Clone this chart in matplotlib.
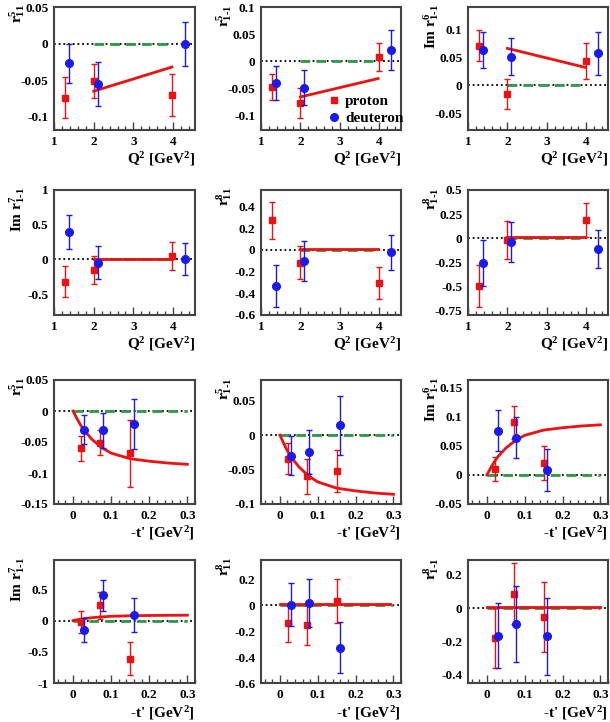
import matplotlib
matplotlib.use("Agg")
import matplotlib.pyplot as plt
from matplotlib.ticker import MultipleLocator, AutoMinorLocator

# ---- data ----
# x positions of the points
q2_prot_x = [1.28, 2.00, 3.98]
q2_deut_x = [1.37, 2.10, 4.30]
t_prot_x = [0.022, 0.072, 0.150]
t_deut_x = [0.030, 0.078, 0.160]

# zero-prediction (green) and model (red) x ranges
green_q2_x = [2.0, 4.0]
green_t_x = [0.0, 0.3]
model_q2_x = [2.0, 3.97]
model_t_x = [0.0, 0.01, 0.02, 0.03, 0.05, 0.075, 0.1, 0.15, 0.2, 0.25, 0.3]
model_t_flat_x = [0.0, 0.29]

# r^5_11 vs Q2
r5_11_q2_prot = [-0.074, -0.051, -0.070]
r5_11_q2_prot_err = [0.028, 0.023, 0.029]
r5_11_q2_deut = [-0.027, -0.055, 0.000]
r5_11_q2_deut_err = [0.027, 0.030, 0.030]
r5_11_q2_model = [-0.065, -0.032]

# r^5_1-1 vs Q2
r5_1m1_q2_prot = [-0.048, -0.077, 0.008]
r5_1m1_q2_prot_err = [0.024, 0.027, 0.026]
r5_1m1_q2_deut = [-0.040, -0.049, 0.020]
r5_1m1_q2_deut_err = [0.031, 0.032, 0.037]
r5_1m1_q2_model = [-0.066, -0.032]

# Im r^6_1-1 vs Q2
r6_q2_prot = [0.071, -0.016, 0.043]
r6_q2_prot_err = [0.027, 0.027, 0.032]
r6_q2_deut = [0.063, 0.051, 0.057]
r6_q2_deut_err = [0.032, 0.033, 0.038]
r6_q2_model = [0.066, 0.032]

# Im r^7_1-1 vs Q2
r7_q2_prot = [-0.32, -0.152, 0.048]
r7_q2_prot_err = [0.22, 0.195, 0.20]
r7_q2_deut = [0.395, -0.048, 0.0]
r7_q2_deut_err = [0.25, 0.235, 0.23]
r7_q2_model = [0.01, 0.01]

# r^8_11 vs Q2
r8_11_q2_prot = [0.273, -0.118, -0.31]
r8_11_q2_prot_err = [0.17, 0.155, 0.147]
r8_11_q2_deut = [-0.332, -0.102, -0.025]
r8_11_q2_deut_err = [0.19, 0.182, 0.163]
r8_11_q2_model = [0.01, 0.01]

# r^8_1-1 vs Q2
r8_1m1_q2_prot = [-0.50, -0.02, 0.189]
r8_1m1_q2_prot_err = [0.218, 0.193, 0.18]
r8_1m1_q2_deut = [-0.257, -0.043, -0.118]
r8_1m1_q2_deut_err = [0.238, 0.208, 0.198]
r8_1m1_q2_model = [0.01, 0.01]

# r^5_11 vs -t'
r5_11_t_prot = [-0.060, -0.051, -0.068]
r5_11_t_prot_err = [0.020, 0.020, 0.054]
r5_11_t_deut = [-0.030, -0.031, -0.021]
r5_11_t_deut_err = [0.023, 0.028, 0.040]
model_t_neg = [0.0, -0.012, -0.023, -0.032, -0.046, -0.059, -0.068, -0.077, -0.081, -0.084, -0.086]

# r^5_1-1 vs -t'
r5_1m1_t_prot = [-0.034, -0.060, -0.052]
r5_1m1_t_prot_err = [0.023, 0.025, 0.030]
r5_1m1_t_deut = [-0.030, -0.025, 0.014]
r5_1m1_t_deut_err = [0.028, 0.032, 0.043]

# Im r^6_1-1 vs -t'
r6_t_prot = [0.010, 0.090, 0.020]
r6_t_prot_err = [0.021, 0.028, 0.029]
r6_t_deut = [0.076, 0.064, 0.008]
r6_t_deut_err = [0.035, 0.035, 0.036]
model_t_pos = [0.0, 0.012, 0.023, 0.032, 0.046, 0.059, 0.068, 0.077, 0.081, 0.084, 0.086]

# Im r^7_1-1 vs -t'
r7_t_prot = [-0.027, 0.242, -0.608]
r7_t_prot_err = [0.18, 0.21, 0.26]
r7_t_deut = [-0.15, 0.403, 0.086]
r7_t_deut_err = [0.197, 0.242, 0.27]

# r^8_11 vs -t'
r8_11_t_prot = [-0.136, -0.154, 0.031]
r8_11_t_prot_err = [0.145, 0.155, 0.17]
r8_11_t_deut = [0.005, 0.018, -0.326]
r8_11_t_deut_err = [0.165, 0.185, 0.20]
model_t_flat = [0.01, 0.01]

# r^8_1-1 vs -t'
r8_1m1_t_prot = [-0.18, 0.087, -0.055]
r8_1m1_t_prot_err = [0.18, 0.182, 0.21]
r8_1m1_t_deut = [-0.166, -0.095, -0.17]
r8_1m1_t_deut_err = [0.195, 0.227, 0.23]

# y tick values per panel
yt_p1 = [-0.1, -0.05, 0, 0.05]
yt_p2 = [-0.1, -0.05, 0, 0.05, 0.1]
yt_p3 = [-0.05, 0, 0.05, 0.1]
yt_p4 = [-0.5, 0, 0.5, 1]
yt_p5 = [-0.6, -0.4, -0.2, 0, 0.2, 0.4]
yt_p6 = [-0.75, -0.5, -0.25, 0, 0.25, 0.5]
yt_p7 = [-0.15, -0.1, -0.05, 0, 0.05]
yt_p8 = [-0.1, -0.05, 0, 0.05]
yt_p9 = [-0.05, 0, 0.05, 0.1, 0.15]
yt_p10 = [-1, -0.5, 0, 0.5]
yt_p11 = [-0.6, -0.4, -0.2, 0, 0.2]
yt_p12 = [-0.4, -0.2, 0, 0.2]

lab_r5_11 = r"r$^{5}_{11}$"
lab_r5_1m1 = r"r$^{5}_{1\text{-}1}$"
lab_r6 = r"Im r$^{6}_{1\text{-}1}$"
lab_r7 = r"Im r$^{7}_{1\text{-}1}$"
lab_r8_11 = r"r$^{8}_{11}$"
lab_r8_1m1 = r"r$^{8}_{1\text{-}1}$"

# ---- style ----
plt.rcParams["font.family"] = ["Liberation Serif", "DejaVu Serif"]
plt.rcParams["font.weight"] = "bold"
plt.rcParams["mathtext.fontset"] = "custom"
plt.rcParams["mathtext.rm"] = "Liberation Serif:bold"
plt.rcParams["mathtext.it"] = "Liberation Serif:bold"
plt.rcParams["mathtext.bf"] = "Liberation Serif:bold"

RED = "#ee1111"
BLUE = "#1a1aee"
GREEN = "#2f9a45"
FRAME = "#444444"

W, H = 610, 722
fig = plt.figure(figsize=(W / 100, H / 100), dpi=100)

col_px = [(54, 195), (261, 401), (468, 608)]
row_px = [(7, 130), (190, 315), (380, 504), (560, 683)]

panels = [
    # row 1 (Q2)
    dict(kind="q2", prot=r5_11_q2_prot, pe=r5_11_q2_prot_err, deut=r5_11_q2_deut, de=r5_11_q2_deut_err,
         mx=model_q2_x, my=r5_11_q2_model, yt=yt_p1, ylim=(-0.118, 0.05), lab=lab_r5_11),
    dict(kind="q2", prot=r5_1m1_q2_prot, pe=r5_1m1_q2_prot_err, deut=r5_1m1_q2_deut, de=r5_1m1_q2_deut_err,
         mx=model_q2_x, my=r5_1m1_q2_model, yt=yt_p2, ylim=(-0.127, 0.1), lab=lab_r5_1m1, legend=True),
    dict(kind="q2", prot=r6_q2_prot, pe=r6_q2_prot_err, deut=r6_q2_deut, de=r6_q2_deut_err,
         mx=model_q2_x, my=r6_q2_model, yt=yt_p3, ylim=(-0.08, 0.14), lab=lab_r6),
    # row 2 (Q2)
    dict(kind="q2", prot=r7_q2_prot, pe=r7_q2_prot_err, deut=r7_q2_deut, de=r7_q2_deut_err,
         mx=model_q2_x, my=r7_q2_model, yt=yt_p4, ylim=(-0.8, 1.0), lab=lab_r7),
    dict(kind="q2", prot=r8_11_q2_prot, pe=r8_11_q2_prot_err, deut=r8_11_q2_deut, de=r8_11_q2_deut_err,
         mx=model_q2_x, my=r8_11_q2_model, yt=yt_p5, ylim=(-0.6, 0.55), lab=lab_r8_11),
    dict(kind="q2", prot=r8_1m1_q2_prot, pe=r8_1m1_q2_prot_err, deut=r8_1m1_q2_deut, de=r8_1m1_q2_deut_err,
         mx=model_q2_x, my=r8_1m1_q2_model, yt=yt_p6, ylim=(-0.8, 0.5), lab=lab_r8_1m1),
    # row 3 (-t')
    dict(kind="t", prot=r5_11_t_prot, pe=r5_11_t_prot_err, deut=r5_11_t_deut, de=r5_11_t_deut_err,
         mx=model_t_x, my=model_t_neg, yt=yt_p7, ylim=(-0.15, 0.05), lab=lab_r5_11),
    dict(kind="t", prot=r5_1m1_t_prot, pe=r5_1m1_t_prot_err, deut=r5_1m1_t_deut, de=r5_1m1_t_deut_err,
         mx=model_t_x, my=model_t_neg, yt=yt_p8, ylim=(-0.1, 0.08), lab=lab_r5_1m1),
    dict(kind="t", prot=r6_t_prot, pe=r6_t_prot_err, deut=r6_t_deut, de=r6_t_deut_err,
         mx=model_t_x, my=model_t_pos, yt=yt_p9, ylim=(-0.05, 0.163), lab=lab_r6),
    # row 4 (-t')
    dict(kind="t", prot=r7_t_prot, pe=r7_t_prot_err, deut=r7_t_deut, de=r7_t_deut_err,
         mx=model_t_x, my=model_t_pos, yt=yt_p10, ylim=(-1.0, 0.97), lab=lab_r7),
    dict(kind="t", prot=r8_11_t_prot, pe=r8_11_t_prot_err, deut=r8_11_t_deut, de=r8_11_t_deut_err,
         mx=model_t_flat_x, my=model_t_flat, yt=yt_p11, ylim=(-0.6, 0.35), lab=lab_r8_11),
    dict(kind="t", prot=r8_1m1_t_prot, pe=r8_1m1_t_prot_err, deut=r8_1m1_t_deut, de=r8_1m1_t_deut_err,
         mx=[0.0, 0.3], my=model_t_flat, yt=yt_p12, ylim=(-0.45, 0.29), lab=lab_r8_1m1),
]

for i, p in enumerate(panels):
    r, c = divmod(i, 3)
    x0, x1 = col_px[c]
    y0, y1 = row_px[r]
    ax = fig.add_axes([x0 / W, 1 - y1 / H, (x1 - x0) / W, (y1 - y0) / H])
    wpx, hpx = x1 - x0, y1 - y0

    if p["kind"] == "q2":
        px, dx, gx = q2_prot_x, q2_deut_x, green_q2_x
        ax.set_xlim(1.0, 4.55)
        ax.xaxis.set_major_locator(MultipleLocator(1))
        ax.xaxis.set_minor_locator(AutoMinorLocator(5))
        xlab = r"Q$^{2}$ [GeV$^{2}$]"
    else:
        px, dx, gx = t_prot_x, t_deut_x, green_t_x
        ax.set_xlim(-0.05, 0.32)
        ax.xaxis.set_major_locator(MultipleLocator(0.1))
        ax.xaxis.set_minor_locator(AutoMinorLocator(5))
        xlab = r"-t' [GeV$^{2}$]"
    xt = [v for v in ax.get_xticks() if ax.get_xlim()[0] - 1e-9 <= v <= ax.get_xlim()[1] + 1e-9]
    ax.set_xticks(xt)
    ax.set_xticklabels([f"{v:g}" for v in xt])

    ax.axhline(0, color="black", ls=(0, (1, 1.6)), lw=1.3, zorder=1)
    ax.plot(gx, [0, 0], color=GREEN, ls=(0, (3.5, 2.2)), lw=2.0, zorder=2)
    ax.plot(p["mx"], p["my"], color=RED, lw=2.0, zorder=3)

    ax.errorbar(px, p["prot"], yerr=p["pe"], fmt="s", color=RED, ms=5, elinewidth=1,
                capsize=2, capthick=1, zorder=4)
    ax.errorbar(dx, p["deut"], yerr=p["de"], fmt="o", color=BLUE, ms=5.5, elinewidth=1,
                capsize=2, capthick=1, zorder=5)

    ax.set_ylim(*p["ylim"])
    ax.set_yticks(p["yt"])
    ax.set_yticklabels([f"{v:g}" for v in p["yt"]])

    ax.tick_params(axis="x", which="major", direction="in", length=6, width=1,
                   labelsize=9.5, pad=4, color=FRAME)
    ax.tick_params(axis="x", which="minor", direction="in", length=3, width=1, color=FRAME)
    ax.tick_params(axis="y", which="both", length=0, labelsize=9.5, pad=4)
    for lbl in ax.get_xticklabels() + ax.get_yticklabels():
        lbl.set_fontweight("bold")
    for s in ax.spines.values():
        s.set_color(FRAME)
        s.set_linewidth(1.5)

    ax.text(-37 / wpx, 1.0 + 3 / hpx, p["lab"], rotation=90, ha="center", va="top",
            fontsize=11, transform=ax.transAxes)
    ax.text(1.0, -34 / hpx, xlab, ha="right", va="baseline", fontsize=11,
            transform=ax.transAxes)

    if p.get("legend"):
        ax.plot([], [], "s", color=RED, ms=5, label="proton")
        ax.plot([], [], "o", color=BLUE, ms=5.5, label="deuteron")
        ax.legend(loc="lower left", bbox_to_anchor=(0.36, -0.07), frameon=False,
                  handletextpad=0.1, labelspacing=0.2, handlelength=1.2,
                  prop=dict(family="Liberation Serif", weight="bold", size=11))

fig.savefig("out.png", dpi=100)
